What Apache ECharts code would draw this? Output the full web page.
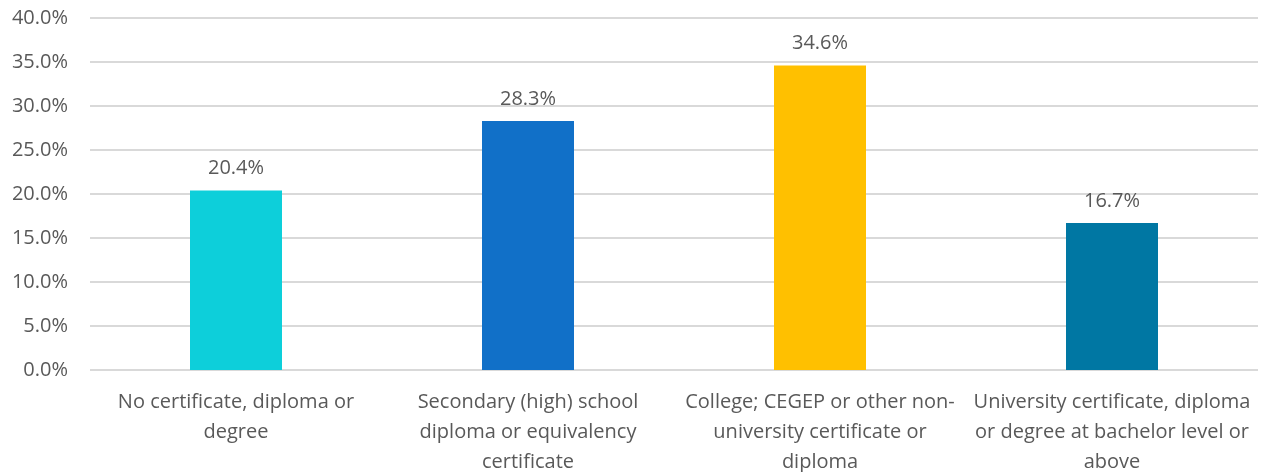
<!DOCTYPE html>
<html><head><meta charset="utf-8">
<script src="https://cdn.jsdelivr.net/npm/echarts@6/dist/echarts.min.js"></script>
<style>html,body{margin:0;padding:0;background:#fff}#c{width:1270px;height:472px}</style>
</head><body><div id="c"></div>
<script>
const categories = [
  "No certificate, diploma or\ndegree",
  "Secondary (high) school\ndiploma or equivalency\ncertificate",
  "College; CEGEP or other non-\nuniversity certificate or\ndiploma",
  "University certificate, diploma\nor degree at bachelor level or\nabove"
];
const values = [20.4, 28.3, 34.6, 16.7];
const colors = ["#0DCFDA", "#1170C8", "#FFC000", "#0077A3"];
const yTicks = [0, 5, 10, 15, 20, 25, 30, 35, 40];

const chart = echarts.init(document.getElementById('c'));
const font = "'Open Sans', 'Noto Sans', sans-serif";
chart.setOption({
  animation: false,
  grid: {left: 90, right: 12, top: 18, bottom: 102, outerBoundsMode: 'none', containLabel: false},
  xAxis: {
    type: 'category', data: categories,
    axisLine: {show: false}, axisTick: {show: false},
    axisLabel: {interval: 0, color: '#595959', fontSize: 20, fontFamily: font, lineHeight: 30, margin: 17}
  },
  yAxis: {
    type: 'value', min: yTicks[0], max: yTicks[yTicks.length-1], interval: 5,
    axisLine: {show: false}, axisTick: {show: false},
    splitLine: {lineStyle: {color: '#D9D9D9', width: 2}},
    axisLabel: {color: '#595959', fontSize: 20, fontFamily: font, margin: 22,
      formatter: v => v.toFixed(1) + '%'}
  },
  series: [{
    type: 'bar', barWidth: 92,
    data: values.map((v, i) => ({value: v, itemStyle: {color: colors[i]}})),
    label: {show: true, position: 'top', distance: 12, color: '#595959', fontSize: 20, fontFamily: font,
      formatter: p => p.value.toFixed(1) + '%'}
  }]
});
</script></body></html>
